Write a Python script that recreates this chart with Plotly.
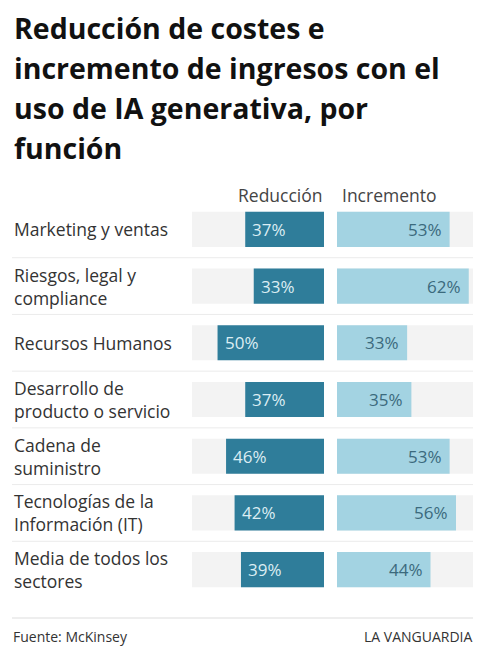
import plotly.graph_objects as go

# ---- data ----
categories = [
    "Marketing y ventas",
    "Riesgos, legal y<br>compliance",
    "Recursos Humanos",
    "Desarrollo de<br>producto o servicio",
    "Cadena de<br>suministro",
    "Tecnologías de la<br>Información (IT)",
    "Media de todos los<br>sectores",
]
reduccion = [37, 33, 50, 37, 46, 42, 39]
incremento = [53, 62, 33, 35, 53, 56, 44]
series_names = ["Reducción", "Incremento"]
title_lines = ["Reducción de costes e", "incremento de ingresos con el",
               "uso de IA generativa, por", "función"]
source_text = "Fuente: McKinsey"
brand_text = "LA VANGUARDIA"

# ---- layout constants ----
W, H = 484, 670
FONT = "Open Sans"
DARK = "#2f7d9a"
LIGHT = "#a3d3e2"
BG = "#f3f3f3"
RED_MAX = 62
INC_MAX = 64

def px(x):
    return x / W

def py(y):
    return 1 - y / H

n = len(categories)
top, bottom = 201, 598
idx = list(range(n))

fig = go.Figure()

# background bars
fig.add_trace(go.Bar(y=idx, x=[RED_MAX] * n, orientation="h", xaxis="x", yaxis="y",
                     marker=dict(color=BG, line=dict(width=0)), width=0.62,
                     hoverinfo="skip", showlegend=False))
fig.add_trace(go.Bar(y=idx, x=[INC_MAX] * n, orientation="h", xaxis="x2", yaxis="y",
                     marker=dict(color=BG, line=dict(width=0)), width=0.62,
                     hoverinfo="skip", showlegend=False))

fig.add_trace(go.Bar(y=idx, x=reduccion, orientation="h", xaxis="x", yaxis="y",
                     name=series_names[0],
                     marker=dict(color=DARK, line=dict(width=0)), width=0.62,
                     showlegend=False))
fig.add_trace(go.Bar(y=idx, x=incremento, orientation="h", xaxis="x2", yaxis="y",
                     name=series_names[1],
                     marker=dict(color=LIGHT, line=dict(width=0)), width=0.62,
                     showlegend=False))

annotations = []
# value labels
for i, v in enumerate(reduccion):
    annotations.append(dict(text=f"{v}%", xref="x", yref="y", x=v, y=i,
                            xanchor="left", yanchor="middle", xshift=5, showarrow=False,
                            font=dict(family=FONT, size=17, color="#dcedf3")))
for i, v in enumerate(incremento):
    annotations.append(dict(text=f"{v}%", xref="x2", yref="y", x=v, y=i,
                            xanchor="right", yanchor="middle", xshift=-6, showarrow=False,
                            font=dict(family=FONT, size=17, color="#3b6a7d")))
# title
for i, line in enumerate(title_lines):
    annotations.append(dict(text=f"<b>{line}</b>", xref="paper", yref="paper",
                            x=px(12), y=py(28 + 40 * i), xanchor="left", yanchor="middle",
                            showarrow=False,
                            font=dict(family=FONT, size=28.5, color="#111111")))
# headers
annotations.append(dict(text=series_names[0], xref="paper", yref="paper", x=px(325), y=py(195),
                        xanchor="right", yanchor="middle", showarrow=False,
                        font=dict(family=FONT, size=17.5, color="#444444")))
annotations.append(dict(text=series_names[1], xref="paper", yref="paper", x=px(340), y=py(195),
                        xanchor="left", yanchor="middle", showarrow=False,
                        font=dict(family=FONT, size=17.5, color="#444444")))
# row labels
for i, c in enumerate(categories):
    annotations.append(dict(text=c, xref="paper", yref="y", x=px(12), y=i,
                            xanchor="left", yanchor="middle", align="left", showarrow=False,
                            font=dict(family=FONT, size=17.5, color="#333333")))
# footer
annotations.append(dict(text=source_text, xref="paper", yref="paper", x=px(11), y=py(636),
                        xanchor="left", yanchor="middle", showarrow=False,
                        font=dict(family=FONT, size=14, color="#333333")))
annotations.append(dict(text=brand_text, xref="paper", yref="paper", x=px(474), y=py(636),
                        xanchor="right", yanchor="middle", showarrow=False,
                        font=dict(family=FONT, size=14, color="#333333")))

shapes = []
for i in range(n - 1):
    shapes.append(dict(type="line", xref="paper", yref="y", x0=px(12), x1=px(473),
                       y0=i + 0.5, y1=i + 0.5, line=dict(color="#ebebeb", width=1)))
shapes.append(dict(type="line", xref="paper", yref="paper", x0=px(12), x1=px(473),
                   y0=py(618), y1=py(618), line=dict(color="#dddddd", width=1)))

fig.update_layout(
    width=W, height=H,
    margin=dict(l=0, r=0, t=0, b=0),
    paper_bgcolor="white", plot_bgcolor="white",
    barmode="overlay",
    xaxis=dict(domain=[px(192), px(324)], range=[RED_MAX, 0], visible=False, fixedrange=True),
    xaxis2=dict(domain=[px(337), px(473)], range=[0, INC_MAX], visible=False, fixedrange=True,
                anchor="y"),
    yaxis=dict(domain=[py(bottom), py(top)], range=[n - 0.5, -0.5], visible=False,
               fixedrange=True),
    annotations=annotations,
    shapes=shapes,
    font=dict(family=FONT),
)

fig.write_html("out.html")
